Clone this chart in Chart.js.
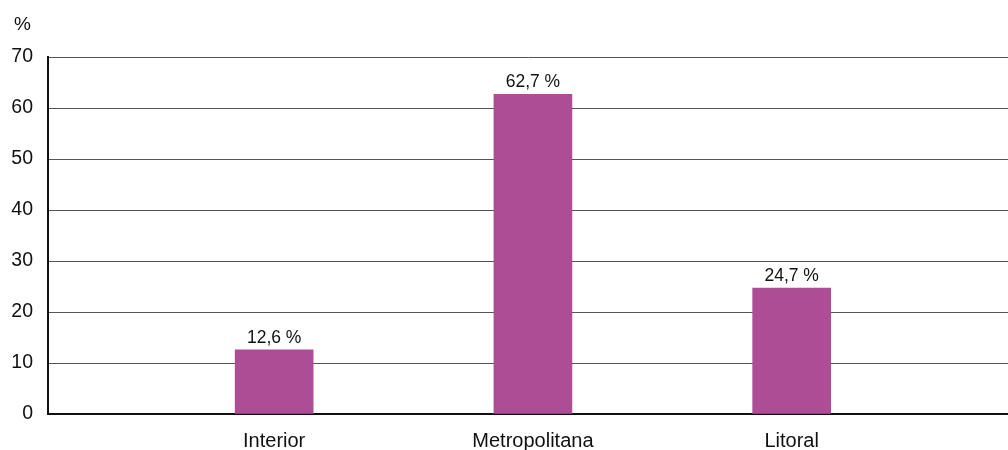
<!DOCTYPE html>
<html lang="es">
<head>
    <meta charset="UTF-8">
    <title>Distribución por zona</title>
    <style>
        body { margin: 0; background: #fff; }
        #wrap { width: 1008px; height: 450px; }
    </style>
    <script src="https://cdn.jsdelivr.net/npm/chart.js"></script>
</head>
<body>
    <div id="wrap"><canvas id="grafica" width="1008" height="450"></canvas></div>
    <script>
        // Datos
        const categorias = ['Interior', 'Metropolitana', 'Litoral'];
        const valores = [12.6, 62.7, 24.7];
        const ticksY = [0, 10, 20, 30, 40, 50, 60, 70];

        const fuente = '"Liberation Sans", Arial, sans-serif';

        // Etiquetas de valor sobre cada barra + el "%" del eje
        const etiquetas = {
            id: 'etiquetas',
            afterDatasetsDraw(chart) {
                const ctx = chart.ctx;
                ctx.save();
                ctx.fillStyle = '#111';
                ctx.font = '17.5px ' + fuente;
                ctx.textAlign = 'center';
                ctx.textBaseline = 'alphabetic';
                chart.getDatasetMeta(0).data.forEach((bar, i) => {
                    const txt = valores[i].toFixed(1).replace('.', ',') + ' %';
                    ctx.fillText(txt, bar.x, bar.y - 7);
                });
                ctx.font = '19px ' + fuente;
                ctx.textAlign = 'left';
                ctx.fillText('%', 14, 30);
                ctx.restore();
            }
        };

        new Chart(document.getElementById('grafica'), {
            type: 'bar',
            data: {
                datasets: [{
                    data: valores.map((v, i) => ({ x: i + 1, y: v })),
                    backgroundColor: '#ad4d95',
                    barThickness: 78
                }]
            },
            options: {
                responsive: false,
                animation: false,
                layout: { padding: { top: 57, right: 0, left: 0, bottom: 0 } },
                plugins: { legend: { display: false }, tooltip: { enabled: false } },
                scales: {
                    x: {
                        type: 'linear',
                        offset: false,
                        min: 0.126,
                        max: 3.836,
                        grid: { display: false, drawTicks: false, offset: false },
                        border: { color: '#111', width: 2 },
                        afterBuildTicks: (scale) => {
                            scale.ticks = categorias.map((c, i) => ({ value: i + 1 }));
                        },
                        afterFit: (scale) => { scale.height = 36; },
                        ticks: {
                            color: '#111',
                            font: { family: fuente, size: 20 },
                            padding: 15,
                            autoSkip: false,
                            maxRotation: 0,
                            callback: (v) => categorias[v - 1]
                        }
                    },
                    y: {
                        min: 0,
                        max: 70,
                        afterBuildTicks: (scale) => {
                            scale.ticks = ticksY.map(v => ({ value: v }));
                        },
                        afterFit: (scale) => { scale.width = 48; },
                        grid: { color: '#555', lineWidth: 1, drawTicks: false },
                        border: { color: '#111', width: 2 },
                        ticks: {
                            color: '#111',
                            font: { family: fuente, size: 19.5 },
                            padding: 15
                        }
                    }
                }
            },
            plugins: [etiquetas]
        });
    </script>
</body>
</html>
